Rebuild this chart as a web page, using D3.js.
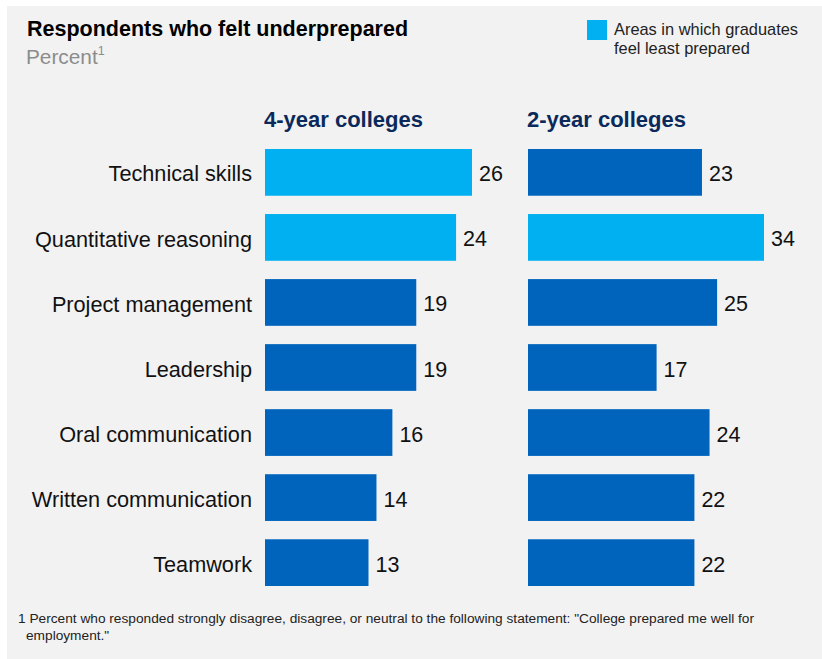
<!DOCTYPE html>
<html>
<head>
<meta charset="utf-8">
<script src="https://cdn.jsdelivr.net/npm/d3@7"></script>
<style>
  body { margin: 0; background: #ffffff; }
  text { font-family: "Liberation Sans", Arial, Helvetica, sans-serif; }
</style>
</head>
<body>
<div id="chart"></div>
<script>
var width = 822;
var height = 659;

// data
var skills = ["Technical skills", "Quantitative reasoning", "Project management",
              "Leadership", "Oral communication", "Written communication", "Teamwork"];
var fourYear = [26, 24, 19, 19, 16, 14, 13];
var twoYear = [23, 34, 25, 17, 24, 22, 22];
// areas where graduates feel least prepared (highlighted)
var leastFour = ["Technical skills", "Quantitative reasoning"];
var leastTwo = ["Quantitative reasoning"];

var darkBlue = "#0064bd";
var lightBlue = "#00b0f0";

var svg = d3.select("#chart")
    .append("svg")
    .attr("width", width)
    .attr("height", height);

svg.append("rect")
    .attr("x", 7).attr("y", 6)
    .attr("width", width - 7).attr("height", height - 6)
    .attr("fill", "#f2f2f2");

// title
svg.append("text")
    .attr("x", 27).attr("y", 36)
    .attr("font-size", 21.5).attr("font-weight", "bold")
    .attr("fill", "#000")
    .text("Respondents who felt underprepared");

var sub = svg.append("text")
    .attr("x", 26).attr("y", 64)
    .attr("font-size", 20.8)
    .attr("fill", "#8c8c8c");
sub.append("tspan").text("Percent");
sub.append("tspan").attr("font-size", 12.5).attr("dy", -9).text("1");

// legend
svg.append("rect")
    .attr("x", 587).attr("y", 20)
    .attr("width", 20).attr("height", 20)
    .attr("fill", lightBlue);
svg.append("text")
    .attr("x", 614).attr("y", 35)
    .attr("font-size", 16.4).attr("fill", "#222")
    .text("Areas in which graduates");
svg.append("text")
    .attr("x", 614).attr("y", 54)
    .attr("font-size", 16.4).attr("fill", "#222")
    .text("feel least prepared");

// rows
var y = d3.scaleBand()
    .domain(skills)
    .range([149, 586])
    .paddingInner(0.2815)
    .paddingOuter(0);

var x4 = d3.scaleLinear().domain([0, 26]).range([0, 207]);
var x2 = d3.scaleLinear().domain([0, 31.2]).range([0, 236]).clamp(true);

// category labels
svg.append("g").selectAll("text")
    .data(skills)
    .enter()
    .append("text")
    .attr("x", 252)
    .attr("y", function(d){ return y(d) + y.bandwidth() / 2; })
    .attr("dy", "0.42em")
    .attr("text-anchor", "end")
    .attr("font-size", 21.7)
    .attr("fill", "#111")
    .text(function(d){ return d; });

function drawPanel(x0, title, values, scale, least) {
    var g = svg.append("g").attr("transform", "translate(" + x0 + ",0)");

    g.append("text")
        .attr("x", -1).attr("y", 127)
        .attr("font-size", 22).attr("font-weight", "bold")
        .attr("fill", "#0b2a5b")
        .text(title);

    var rows = g.selectAll(".row")
        .data(skills)
        .enter()
        .append("g")
        .attr("class", "row");

    rows.append("rect")
        .attr("x", 0)
        .attr("y", function(d){ return y(d); })
        .attr("width", function(d, i){ return scale(values[i]); })
        .attr("height", y.bandwidth())
        .attr("fill", function(d){ return least.indexOf(d) >= 0 ? lightBlue : darkBlue; });

    rows.append("text")
        .attr("x", function(d, i){ return scale(values[i]) + 7; })
        .attr("y", function(d){ return y(d) + y.bandwidth() / 2; })
        .attr("dy", "0.42em")
        .attr("font-size", 21.5)
        .attr("fill", "#111")
        .text(function(d, i){ return values[i]; });
}

drawPanel(265, "4-year colleges", fourYear, x4, leastFour);
drawPanel(528, "2-year colleges", twoYear, x2, leastTwo);

// footnote
svg.append("text")
    .attr("x", 18).attr("y", 623)
    .attr("font-size", 13.7).attr("fill", "#222")
    .text("1 Percent who responded strongly disagree, disagree, or neutral to the following statement: \"College prepared me well for");
svg.append("text")
    .attr("x", 26).attr("y", 640)
    .attr("font-size", 13.7).attr("fill", "#222")
    .text("employment.\"");
</script>
</body>
</html>
